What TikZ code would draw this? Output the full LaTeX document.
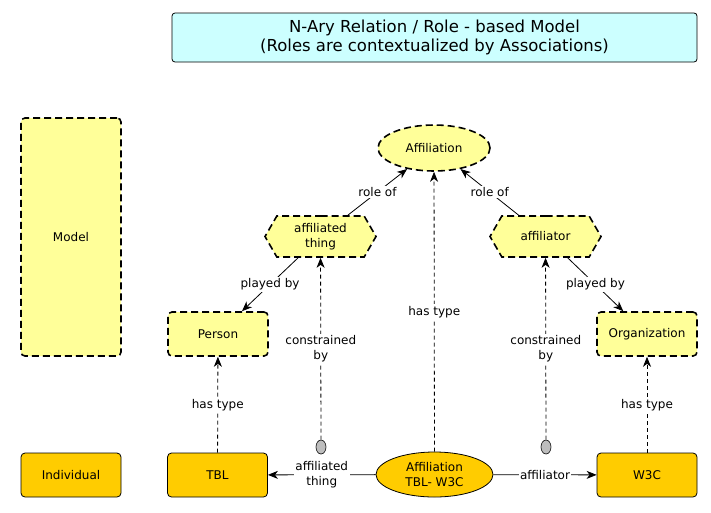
\documentclass[tikz,border=0pt]{standalone}
\usepackage{fontspec}
\setmainfont{DejaVu Sans}
\usetikzlibrary{shapes.geometric,shapes.symbols,arrows.meta}
\definecolor{modelyellow}{HTML}{FFFF99}
\definecolor{indgold}{HTML}{FFCC00}
\definecolor{titlecyan}{HTML}{CCFFFF}
\definecolor{dotgray}{HTML}{BDBDBD}

\begin{document}
\begin{tikzpicture}[x=1pt,y=-1pt,font=\fontsize{12}{14.5}\selectfont]
\useasboundingbox (0,0) rectangle (711,512);

\tikzset{modelbox/.style={draw,fill=modelyellow,dash pattern=on 7pt off 4pt,line width=1.6pt,rounded corners=4pt,minimum width=100pt,minimum height=44pt,inner sep=0pt}};
\tikzset{indbox/.style={draw,fill=indgold,line width=0.8pt,rounded corners=4pt,minimum width=100pt,minimum height=44pt,inner sep=0pt}};
\tikzset{rolebox/.style={draw,fill=modelyellow,dash pattern=on 7pt off 4pt,line width=1.6pt,shape=signal,signal to=east and west,signal pointer angle=120,minimum width=111pt,minimum height=41pt,inner sep=0pt,align=center}};
\tikzset{dot/.style={draw,fill=dotgray,ellipse,line width=0.6pt,minimum width=10pt,minimum height=14pt,inner sep=0pt}};
\tikzset{rel/.style={-{Stealth[length=10pt,width=8pt,inset=3pt]},line width=0.8pt}};
\tikzset{reldash/.style={rel,dash pattern=on 4pt off 3pt}};
\tikzset{lbl/.style={fill=white,inner sep=1.5pt,align=center}};

\node (title) at (434.5, 37.5) [draw,fill=titlecyan,line width=0.8pt,rounded corners=3pt,minimum width=525pt,minimum height=49pt,align=center,font=\fontsize{16.5}{19.5}\selectfont] {N-Ary Relation / Role - based Model\\(Roles are contextualized by Associations)};

% left column
\node (model) at (71, 237) [modelbox,minimum height=238pt] {Model};
\node (indiv) at (71, 475) [indbox] {Individual};

% model level
\node (affil) at (434, 148) [draw,fill=modelyellow,dash pattern=on 7pt off 4pt,line width=1.6pt,ellipse,minimum width=112pt,minimum height=46pt,inner sep=0pt] {Affiliation};
\node (athing) at (320.5, 236.5) [rolebox] {affiliated\\thing};
\node (aftor) at (545.5, 236.5) [rolebox] {affiliator};
\node (person) at (218, 334) [modelbox] {Person};
\node (org) at (647, 334) [modelbox] {Organization};

% individual level
\node (tbl) at (217.5, 475) [indbox] {TBL};
\node (w3c) at (647, 475) [indbox] {W3C};
\node (rel) at (434.5, 474.5) [draw,fill=indgold,line width=0.8pt,ellipse,minimum width=117pt,minimum height=45pt,inner sep=0pt,align=center] {Affiliation\\TBL- W3C};
\node (dotL) at (321, 447) [dot] {};
\node (dotR) at (546, 447) [dot] {};

\path (athing) edge [rel] node [lbl] {role of} (affil);
\path (aftor) edge [rel] node [lbl] {role of} (affil);
\path (athing) edge [rel] node [lbl] {played by} (person);
\path (aftor) edge [rel] node [lbl] {played by} (org);

\path (dotL) edge [reldash] node [lbl] {constrained\\by} (athing);
\path (dotR) edge [reldash] node [lbl] {constrained\\by} (aftor);
\path (rel) edge [reldash] node [lbl] {has type} (affil);
\path (tbl) edge [reldash] node [lbl] {has type} (person);
\path (w3c) edge [reldash] node [lbl] {has type} (org);

\path (rel) edge [rel] node [lbl] {affiliated\\thing} (tbl);
\path (rel) edge [rel] node [lbl] {affiliator} (w3c);
\end{tikzpicture}
\end{document}
